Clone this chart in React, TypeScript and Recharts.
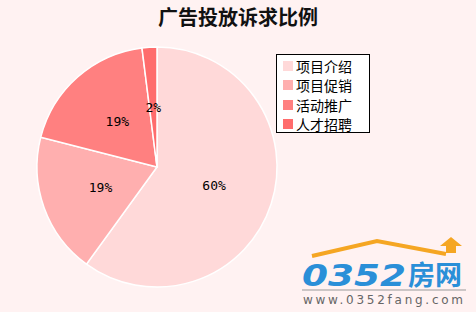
import React from 'react';
import { PieChart, Pie, Cell, Legend } from 'recharts';

const categories = ['项目介绍', '项目促销', '活动推广', '人才招聘'];
const shares = [60, 19, 19, 2];
const COLORS = ['#FFD9D9', '#FFAFAF', '#FF8080', '#FF6C6C'];

const data = categories.map((name, i) => ({ name, value: shares[i] }));

const RADIAN = Math.PI / 180;

// percent labels sit halfway out along each slice
const renderLabel = ({ cx, cy, midAngle, outerRadius, value }: any) => {
  const r = outerRadius * 0.5;
  const x = cx + r * Math.cos(-midAngle * RADIAN);
  const y = cy + r * Math.sin(-midAngle * RADIAN);
  return (
    <text x={x} y={y} fill="#000" fontSize={13} fontFamily="'DejaVu Sans Mono', monospace" textAnchor="middle" dominantBaseline="central">
      {`${value}%`}
    </text>
  );
};

const renderLegend = () => (
  <div style={{ border: '1px solid #000', background: '#fff', width: 94, height: 79, padding: '1px 0 0 6px', boxSizing: 'border-box' }}>
    {categories.map((c, i) => (
      <div key={c} style={{ display: 'flex', alignItems: 'center', height: 19.5 }}>
        <span style={{ width: 10, height: 10, background: COLORS[i], marginRight: 3 }} />
        <span style={{ fontSize: 14, fontFamily: "'Noto Sans CJK SC', sans-serif", lineHeight: '18px' }}>{c}</span>
      </div>
    ))}
  </div>
);

export default function App() {
  return (
    <div style={{ position: 'absolute', left: 0, top: 0, width: 476, height: 312, background: '#FFF2F2', overflow: 'hidden' }}>
      <div style={{ position: 'absolute', top: 3, width: 476, textAlign: 'center', fontSize: 20, fontWeight: 'bold', fontFamily: "'Noto Sans CJK SC', sans-serif", color: '#111', lineHeight: '28px' }}>
        广告投放诉求比例
      </div>
      <PieChart width={476} height={312} margin={{ top: 0, right: 0, bottom: 0, left: 0 }}>
        <Pie
          data={data}
          dataKey="value"
          nameKey="name"
          cx={157}
          cy={167}
          outerRadius={120}
          startAngle={90}
          endAngle={-270}
          stroke="#fff"
          strokeWidth={1.5}
          labelLine={false}
          label={renderLabel}
          isAnimationActive={false}
        >
          {data.map((entry, index) => (
            <Cell key={`cell-${index}`} fill={COLORS[index]} />
          ))}
        </Pie>
        <Legend content={renderLegend} wrapperStyle={{ left: 276, top: 54, width: 94 }} />
      </PieChart>
      {/* site logo, bottom right */}
      <svg width={196} height={92} style={{ position: 'absolute', left: 280, top: 220 }}>
        <polyline points="32,36 97,21 166,34" fill="none" stroke="#F5A623" strokeWidth={4} />
        <polygon points="160,26 171,17 182,26 176,26 176,33 166,33 166,26" fill="#F5A623" />
        <text x={22} y={66} fontSize={30} fontStyle="italic" fontWeight="bold" fill="#2A8FD8" fontFamily="'DejaVu Sans', sans-serif" textLength={104} lengthAdjust="spacingAndGlyphs">0352</text>
        <text x={128} y={65} fontSize={27} fontWeight="bold" fill="#2A8FD8" fontFamily="'Noto Sans CJK SC', sans-serif">房网</text>
        <line x1={22} y1={70} x2={186} y2={70} stroke="#999" strokeWidth={1} />
        <text x={23} y={84} fontSize={12} fill="#666" fontFamily="'DejaVu Sans', sans-serif" textLength={160} lengthAdjust="spacing">www.0352fang.com</text>
      </svg>
    </div>
  );
}
